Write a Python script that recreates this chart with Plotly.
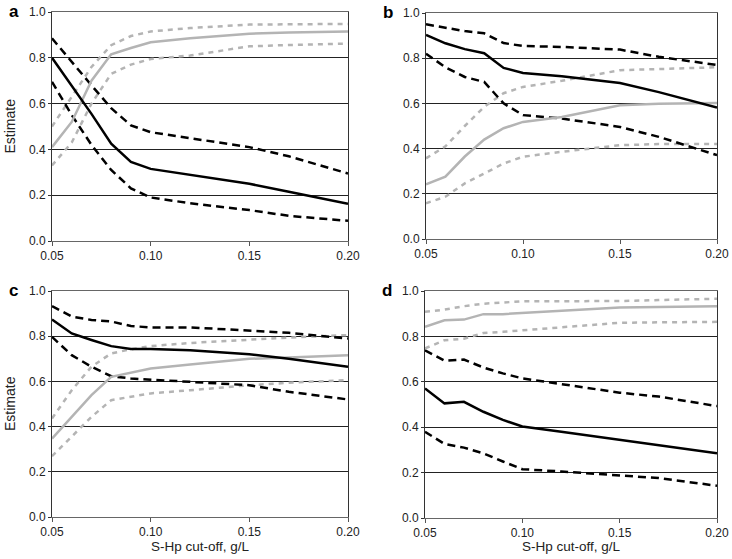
import plotly.graph_objects as go

x = [0.05, 0.06, 0.07, 0.08, 0.09, 0.10, 0.12, 0.15, 0.17, 0.20]

# Panel a
a_black = [0.80, 0.68, 0.555, 0.425, 0.345, 0.315, 0.289, 0.25, 0.215, 0.163]
a_black_hi = [0.885, 0.78, 0.68, 0.58, 0.505, 0.475, 0.45, 0.41, 0.37, 0.295]
a_black_lo = [0.695, 0.55, 0.42, 0.31, 0.23, 0.19, 0.165, 0.135, 0.11, 0.088]
a_grey = [0.41, 0.52, 0.70, 0.815, 0.843, 0.868, 0.885, 0.905, 0.91, 0.915]
a_grey_hi = [0.50, 0.63, 0.76, 0.855, 0.895, 0.915, 0.93, 0.945, 0.946, 0.948]
a_grey_lo = [0.33, 0.43, 0.60, 0.73, 0.77, 0.795, 0.81, 0.85, 0.856, 0.862]

# Panel b
b_black = [0.903, 0.866, 0.84, 0.822, 0.757, 0.735, 0.72, 0.69, 0.65, 0.582]
b_black_hi = [0.95, 0.935, 0.92, 0.91, 0.867, 0.854, 0.85, 0.838, 0.806, 0.77]
b_black_lo = [0.82, 0.76, 0.717, 0.695, 0.60, 0.548, 0.533, 0.496, 0.452, 0.371]
b_grey = [0.242, 0.276, 0.365, 0.44, 0.49, 0.518, 0.54, 0.592, 0.598, 0.602]
b_grey_hi = [0.357, 0.41, 0.50, 0.585, 0.645, 0.673, 0.70, 0.747, 0.752, 0.76]
b_grey_lo = [0.158, 0.187, 0.246, 0.29, 0.334, 0.364, 0.386, 0.415, 0.42, 0.42]

# Panel c
c_black = [0.874, 0.812, 0.783, 0.756, 0.743, 0.743, 0.738, 0.72, 0.70, 0.665]
c_black_hi = [0.933, 0.887, 0.872, 0.865, 0.845, 0.839, 0.839, 0.824, 0.815, 0.79]
c_black_lo = [0.797, 0.716, 0.665, 0.623, 0.613, 0.609, 0.598, 0.583, 0.554, 0.52]
c_grey = [0.347, 0.443, 0.539, 0.62, 0.638, 0.657, 0.675, 0.70, 0.706, 0.716]
c_grey_hi = [0.436, 0.561, 0.665, 0.724, 0.742, 0.756, 0.77, 0.786, 0.794, 0.805]
c_grey_lo = [0.269, 0.355, 0.443, 0.517, 0.532, 0.547, 0.561, 0.583, 0.594, 0.606]

# Panel d
d_black = [0.571, 0.505, 0.512, 0.468, 0.432, 0.403, 0.38, 0.344, 0.32, 0.285]
d_black_hi = [0.739, 0.693, 0.698, 0.663, 0.637, 0.615, 0.59, 0.552, 0.535, 0.493]
d_black_lo = [0.38, 0.326, 0.31, 0.285, 0.249, 0.215, 0.205, 0.186, 0.176, 0.142]
d_grey = [0.842, 0.871, 0.874, 0.898, 0.898, 0.903, 0.912, 0.927, 0.93, 0.933]
d_grey_hi = [0.908, 0.918, 0.933, 0.944, 0.949, 0.955, 0.955, 0.956, 0.96, 0.966]
d_grey_lo = [0.747, 0.783, 0.79, 0.815, 0.82, 0.827, 0.842, 0.86, 0.862, 0.864]

panels = [
    ("a", a_black, a_black_hi, a_black_lo, a_grey, a_grey_hi, a_grey_lo),
    ("b", b_black, b_black_hi, b_black_lo, b_grey, b_grey_hi, b_grey_lo),
    ("c", c_black, c_black_hi, c_black_lo, c_grey, c_grey_hi, c_grey_lo),
    ("d", d_black, d_black_hi, d_black_lo, d_grey, d_grey_hi, d_grey_lo),
]

W, H = 732, 559
# plot-area pixel boxes (left, right, top, bottom)
boxes = [(52, 348, 12, 241), (426, 717, 13, 239), (52, 348, 291, 517), (425, 717, 291, 518)]

GREY = "#b4b4b4"
fig = go.Figure()
layout = dict(
    width=W, height=H, margin=dict(l=0, r=0, t=0, b=0, autoexpand=False),
    paper_bgcolor="white", plot_bgcolor="white", showlegend=False,
    font=dict(family="Liberation Sans, Arial, sans-serif", size=12, color="#222"),
)
annotations = []
for i, (lab, bl, bh, blo, gr, gh, glo) in enumerate(panels):
    n = "" if i == 0 else str(i + 1)
    xa, ya = "x" + n, "y" + n
    l, r, t, b = boxes[i]
    layout["xaxis" + n] = dict(
        domain=[l / W, r / W], anchor=ya, range=[0.05, 0.20],
        tickvals=[0.05, 0.10, 0.15, 0.20], ticktext=["0.05", "0.10", "0.15", "0.20"],
        ticks="outside", ticklen=4, tickcolor="#555", showgrid=False, zeroline=False,
        showline=True, linecolor="#666", linewidth=1, mirror=True,
        tickfont=dict(size=12), automargin=False, ticklabeloverflow="allow",
    )
    layout["yaxis" + n] = dict(
        domain=[(H - b) / H, (H - t) / H], anchor=xa, range=[0, 1.0],
        tickvals=[0, 0.2, 0.4, 0.6, 0.8, 1.0], ticktext=["0.0", "0.2", "0.4", "0.6", "0.8", "1.0"],
        ticks="outside", ticklen=3, tickcolor="#333", showgrid=True, gridcolor="#222", gridwidth=1,
        zeroline=False, showline=True, linecolor="#333", linewidth=1, mirror=True,
        tickfont=dict(size=12), automargin=False, ticklabeloverflow="allow",
    )
    for yy, col, dash in [(gh, GREY, "5px,5px"), (glo, GREY, "5px,5px"),
                          (bh, "black", "8px,5px"), (blo, "black", "8px,5px")]:
        fig.add_trace(go.Scatter(x=x, y=yy, mode="lines", xaxis=xa, yaxis=ya,
                                 line=dict(color=col, width=2.5, dash=dash)))
    fig.add_trace(go.Scatter(x=x, y=gr, mode="lines", xaxis=xa, yaxis=ya,
                             line=dict(color=GREY, width=2.5)))
    fig.add_trace(go.Scatter(x=x, y=bl, mode="lines", xaxis=xa, yaxis=ya,
                             line=dict(color="black", width=2.5)))
    annotations.append(dict(text="<b>" + lab + "</b>", x=(l - 45) / W, y=(H - t + 1) / H,
                            xref="paper", yref="paper", xanchor="left", yanchor="middle",
                            showarrow=False, font=dict(size=17, color="black")))
    if i in (0, 2):
        annotations.append(dict(text="Estimate", x=10 / W, y=(H - (t + b) / 2) / H,
                                xref="paper", yref="paper", textangle=-90,
                                xanchor="center", yanchor="middle", showarrow=False,
                                font=dict(size=14)))
    if i in (2, 3):
        annotations.append(dict(text="S-Hp cut-off, g/L", x=((l + r) / 2) / W, y=(H - 546) / H,
                                xref="paper", yref="paper", xanchor="center", yanchor="middle",
                                showarrow=False, font=dict(size=13.5)))
layout["annotations"] = annotations
fig.update_layout(**layout)
fig.write_html("out.html", config={"displayModeBar": False},
               post_script="document.body.style.margin='0px';document.body.style.overflow='hidden';")
